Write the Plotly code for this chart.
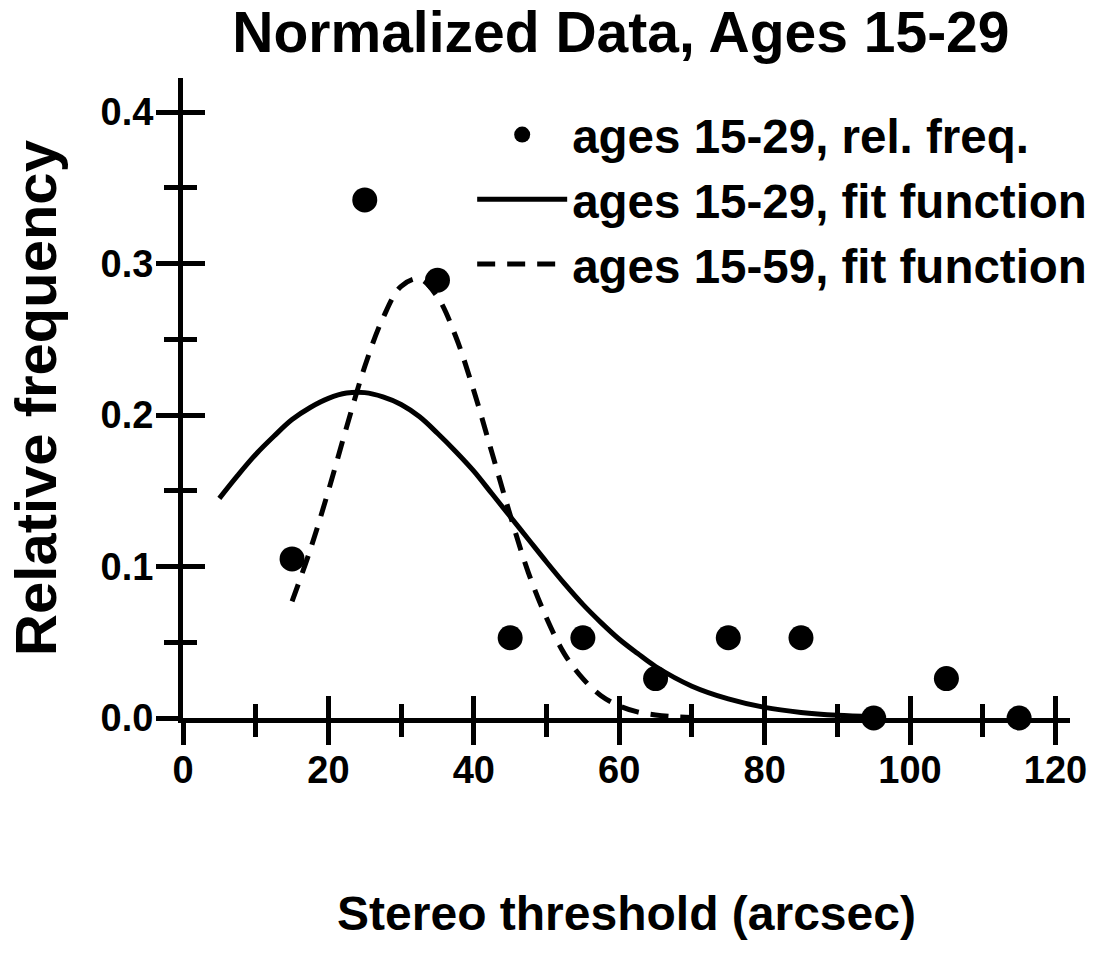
import plotly.graph_objects as go

# ---- data ----
threshold = [15, 25, 35, 45, 55, 65, 75, 85, 95, 105, 115]
rel_freq = [0.105, 0.342, 0.289, 0.053, 0.053, 0.026, 0.053, 0.053, 0.0, 0.026, 0.0]

fit_1529_x = [5, 7.5, 10, 12.5, 15, 17.5, 20, 22.5, 25, 27.5, 30, 32.5, 35, 37.5, 40,
              42.5, 45, 47.5, 50, 52.5, 55, 57.5, 60, 62.5, 65, 70, 75, 80, 85, 90, 95]
fit_1529_y = [0.145, 0.160, 0.174, 0.186, 0.197, 0.205, 0.211, 0.2145, 0.2148, 0.212,
              0.207, 0.199, 0.188, 0.176, 0.163, 0.148, 0.133, 0.118, 0.103, 0.0885,
              0.075, 0.063, 0.052, 0.0427, 0.034, 0.021, 0.0126, 0.007, 0.0037, 0.0018, 0.0009]

fit_1559_x = [15, 17.5, 20, 22.5, 25, 27.5, 30, 32.5, 35, 37.5, 40, 42.5, 45, 47.5,
              50, 52.5, 55, 57.5, 60, 62.5, 65, 67.5, 70]
fit_1559_y = [0.077, 0.111, 0.150, 0.192, 0.232, 0.264, 0.285, 0.290, 0.278, 0.252,
              0.216, 0.175, 0.134, 0.096, 0.066, 0.042, 0.026, 0.0147, 0.008, 0.004,
              0.002, 0.0009, 0.0004]

x_ticks = [0, 20, 40, 60, 80, 100, 120]
y_ticks = [0.0, 0.1, 0.2, 0.3, 0.4]
y_tick_labels = ["0.0", "0.1", "0.2", "0.3", "0.4"]

FONT = "Liberation Sans, Arial, Helvetica, sans-serif"
X_RANGE = [0, 122]
Y_RANGE = [0, 0.4225]

fig = go.Figure()

fig.add_trace(go.Scatter(
    x=threshold, y=rel_freq, mode="markers", name="ages 15-29, rel. freq.",
    marker=dict(size=25, color="black"), cliponaxis=False))
fig.add_trace(go.Scatter(
    x=fit_1529_x, y=fit_1529_y, mode="lines", name="ages 15-29, fit function",
    line=dict(color="black", width=5, shape="spline"), cliponaxis=False))
fig.add_trace(go.Scatter(
    x=fit_1559_x, y=fit_1559_y, mode="lines", name="ages 15-59, fit function",
    line=dict(color="black", width=5, shape="spline", dash="18px,12px"), cliponaxis=False))

# dummy traces to instantiate overlay axes (ticks on the other side of the axis lines)
fig.add_trace(go.Scatter(x=[], y=[], xaxis="x2", yaxis="y", showlegend=False, hoverinfo="skip"))
fig.add_trace(go.Scatter(x=[], y=[], xaxis="x", yaxis="y2", showlegend=False, hoverinfo="skip"))

tickfont = dict(family=FONT, size=38, color="black", weight="bold")

fig.update_layout(
    width=1099, height=973,
    margin=dict(l=183, r=29, t=78, b=255, autoexpand=False),
    paper_bgcolor="white", plot_bgcolor="white",
    title=dict(text="Normalized Data, Ages 15-29", x=0.565, xref="container", xanchor="center",
               y=0.988, yref="container", yanchor="top",
               font=dict(family=FONT, size=57, color="black", weight="bold")),
    showlegend=True,
    legend=dict(x=1.025, xanchor="right", y=0.97, yanchor="top", bgcolor="rgba(0,0,0,0)",
                font=dict(family=FONT, size=47.5, color="black", weight="bold"),
                itemsizing="trace", itemwidth=90, tracegroupgap=0),
    xaxis=dict(range=X_RANGE, tickvals=x_ticks, ticks="outside", ticklen=22, tickwidth=5,
               tickcolor="black", showline=True, linewidth=5, linecolor="black",
               showgrid=False, zeroline=False, tickfont=tickfont, automargin=False,
               ticklabelstandoff=-8,
               minor=dict(dtick=10, tick0=0, ticks="outside", ticklen=14, tickwidth=5,
                          tickcolor="black", showgrid=False),
               title=dict(text="Stereo threshold (arcsec)", standoff=108,
                          font=dict(family=FONT, size=48, color="black", weight="bold"))),
    yaxis=dict(range=Y_RANGE, tickvals=y_ticks, ticktext=y_tick_labels, ticks="outside",
               ticklen=22, tickwidth=5, tickcolor="black", showline=True, linewidth=5,
               linecolor="black", showgrid=False, zeroline=False, tickfont=tickfont,
               automargin=False, ticklabelstandoff=-5,
               minor=dict(dtick=0.05, tick0=0, ticks="outside", ticklen=14, tickwidth=5,
                          tickcolor="black", showgrid=False),
               title=dict(text="Relative frequency", standoff=27,
                          font=dict(family=FONT, size=58, color="black", weight="bold"))),
    xaxis2=dict(range=X_RANGE, overlaying="x", anchor="y", side="bottom", tickvals=x_ticks,
                ticks="inside", ticklen=22, tickwidth=5, tickcolor="black", showline=False,
                showgrid=False, zeroline=False, showticklabels=False,
                minor=dict(dtick=10, tick0=0, ticks="inside", ticklen=14, tickwidth=5,
                           tickcolor="black", showgrid=False)),
    yaxis2=dict(range=Y_RANGE, overlaying="y", anchor="x", side="left", tickvals=y_ticks,
                ticks="inside", ticklen=22, tickwidth=5, tickcolor="black", showline=False,
                showgrid=False, zeroline=False, showticklabels=False,
                minor=dict(dtick=0.05, tick0=0, ticks="inside", ticklen=14, tickwidth=5,
                           tickcolor="black", showgrid=False)),
)

fig.write_html("out.html")
